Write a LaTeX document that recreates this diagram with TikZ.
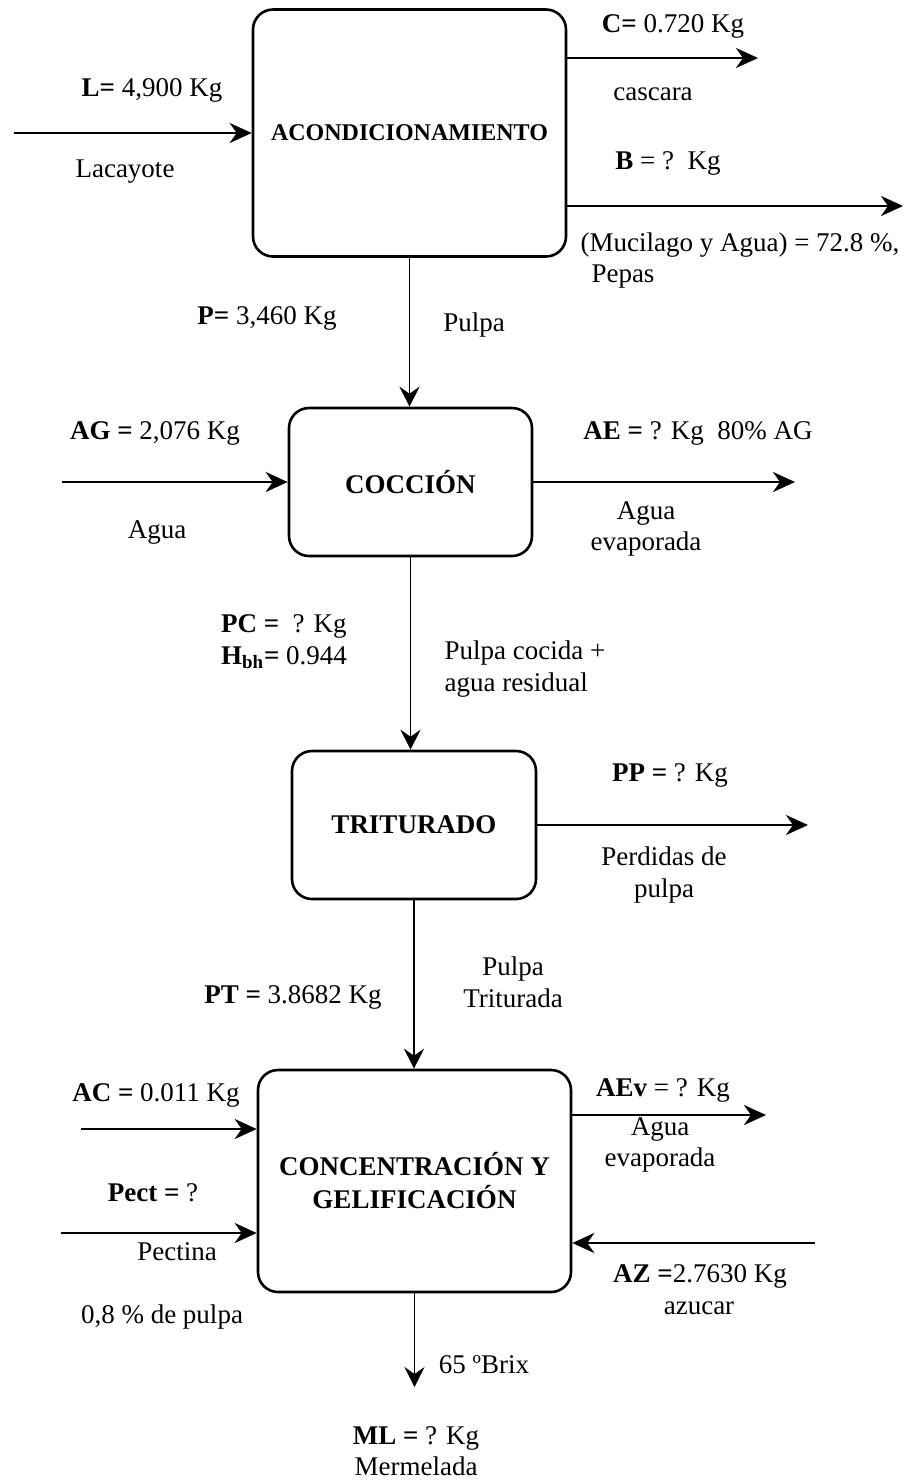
\documentclass[tikz,border=0pt]{standalone}
\usepackage{fontspec}
\setmainfont{Liberation Serif}
\usetikzlibrary{arrows.meta}

\begin{document}
\begin{tikzpicture}[x=0.5pt,y=-0.5pt,
    every node/.style={font=\fontsize{13.5}{15.8}\selectfont},
    proceso/.style={draw,line width=1.3pt,rounded corners=10pt,align=center,inner sep=0pt,
      font=\fontsize{13.5}{16.5}\selectfont\bfseries},
    flecha/.style={line width=1.4pt,-{Stealth[length=11pt,width=10pt,inset=3.5pt]}},
    bajada/.style={line width=0.9pt,-{Stealth[length=10pt,width=10pt,inset=3.5pt]}},
    etiqueta/.style={inner sep=0pt,align=center}]
  \useasboundingbox (0,0) rectangle (904,1480);

  % etapas del proceso
  \node[proceso,minimum width=156.5pt,minimum height=123.5pt,
    font=\fontsize{12}{14}\selectfont\bfseries] (acond) at (409.5,133) {ACONDICIONAMIENTO};
  \node[proceso,minimum width=121.5pt,minimum height=74pt] (coccion) at (410.5,482) {COCCIÓN};
  \node[proceso,minimum width=122pt,minimum height=74pt] (triturado) at (414,825) {TRITURADO};
  \node[proceso,minimum width=156.5pt,minimum height=111pt] (concen) at (414.5,1181)
    {CONCENTRACIÓN Y\\GELIFICACIÓN};

  % extremos libres de las corrientes
  \coordinate (entL) at (14,133);
  \coordinate (salC) at (758,58);
  \coordinate (salB) at (903,206);
  \coordinate (entAG) at (62,482);
  \coordinate (salAE) at (795,482);
  \coordinate (salPP) at (808,825);
  \coordinate (entAC) at (81,1129);
  \coordinate (entPect) at (61,1233);
  \coordinate (salAEv) at (766,1115);
  \coordinate (entAZ) at (815,1243);
  \coordinate (salML) at (414.5,1387);

  % corrientes
  \draw[flecha] (entL) -- (entL -| acond.west);
  \draw[flecha] (salC -| acond.east) -- (salC);
  \draw[flecha] (salB -| acond.east) -- (salB);
  \draw[bajada] (acond.south) -- (acond.south |- coccion.north);
  \draw[flecha] (entAG) -- (entAG -| coccion.west);
  \draw[flecha] (coccion.east) -- (salAE);
  \draw[bajada] (coccion.south) -- (coccion.south |- triturado.north);
  \draw[flecha] (triturado.east) -- (salPP);
  \draw[bajada] (triturado.south) -- (triturado.south |- concen.north);
  \draw[flecha] (entAC) -- (entAC -| concen.west);
  \draw[flecha] (entPect) -- (entPect -| concen.west);
  \draw[flecha] (salAEv -| concen.east) -- (salAEv);
  \draw[flecha] (entAZ) -- (entAZ -| concen.east);
  \draw[bajada] (concen.south) -- (salML);

  % etiquetas
  \node[etiqueta] (lblL) at (152,90) {\textbf{L=} 4,900 Kg};
  \node[etiqueta] (lblLac) at (125,172) {Lacayote};
  \node[etiqueta] (lblC) at (673,26) {\textbf{C=} 0.720 Kg};
  \node[etiqueta] (lblCas) at (653,94) {cascara};
  \node[etiqueta] (lblB) at (668,163) {\textbf{B} = ?~~Kg};
  \node[etiqueta] (lblMuc) at (740,245) {(Mucilago y Agua) = 72.8 \%,};
  \node[etiqueta] (lblPep) at (623,277) {Pepas};
  \node[etiqueta] (lblP) at (267,318) {\textbf{P=} 3,460 Kg};
  \node[etiqueta] (lblPul) at (474,325) {Pulpa};
  \node[etiqueta] (lblAG) at (155,433) {\textbf{AG =} 2,076 Kg};
  \node[etiqueta] (lblAgua) at (157,532) {Agua};
  \node[etiqueta] (lblAE) at (698,433) {\textbf{AE =} ? Kg~~80\% AG};
  \node[etiqueta] (lblEvap) at (646,529) {Agua\\evaporada};
  \node[etiqueta,align=left] (lblPC) at (284,642) {\textbf{PC =}~~? Kg\\\textbf{H\textsubscript{bh}=} 0.944};
  \node[etiqueta,align=left] (lblCoc) at (525,669) {Pulpa cocida +\\agua residual};
  \node[etiqueta] (lblPP) at (670,775) {\textbf{PP =} ? Kg};
  \node[etiqueta] (lblPer) at (664,875) {Perdidas de\\pulpa};
  \node[etiqueta] (lblPT) at (293,997) {\textbf{PT =} 3.8682 Kg};
  \node[etiqueta] (lblTri) at (513,982) {Pulpa\\Triturada};
  \node[etiqueta] (lblAC) at (156,1095) {\textbf{AC =} 0.011 Kg};
  \node[etiqueta] (lblPect) at (153,1193) {\textbf{Pect =} ?};
  \node[etiqueta] (lblPectina) at (177,1252) {Pectina};
  \node[etiqueta] (lblPor) at (162,1317) {0,8 \% de pulpa};
  \node[etiqueta] (lblAEv) at (663,1090) {\textbf{AEv} = ? Kg};
  \node[etiqueta] (lblEvap2) at (660,1145) {Agua\\evaporada};
  \node[etiqueta] (lblAZ) at (700,1276) {\textbf{AZ =}2.7630 Kg};
  \node[etiqueta] (lblAzu) at (699,1308) {azucar};
  \node[etiqueta] (lblBrix) at (484,1365) {65 ºBrix};
  \node[etiqueta] (lblML) at (416,1451) {\textbf{ML =} ? Kg\\Mermelada};
\end{tikzpicture}
\end{document}
